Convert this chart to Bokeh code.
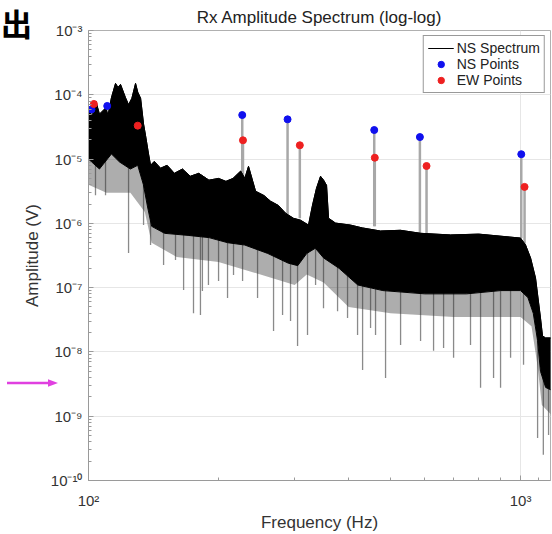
from bokeh.plotting import figure
from bokeh.layouts import column
from bokeh.models import Legend, LegendItem, Div, FixedTicker, CustomJSTickFormatter
from bokeh.embed import file_html
from bokeh.resources import INLINE

# ---- spectrum: upper envelope of the dense trace
spec_upper_f = [100, 102, 104, 106, 109.5, 111, 113, 115.5, 117, 118.6, 121.8, 123.8, 126, 128.5, 130,
                132, 134.1, 135.5, 137.7, 139.2, 142, 146.8, 152, 158, 165, 172, 180, 190, 200, 208,
                216, 225, 230, 234.6, 240, 243.6, 255, 263.8, 275, 285.8, 298, 309.5, 323, 330, 337,
                344.4, 350, 355.6, 359.4, 373, 404, 430, 474, 527, 587, 689, 800, 1000, 1027, 1055,
                1083, 1112, 1124, 1143, 1186]
spec_upper_a = [6.0e-5, 4.5e-5, 7.9e-5, 5.0e-5, 6.2e-5, 4.8e-5, 9.0e-5, 1.5e-4, 1.3e-4, 1.45e-4, 9e-5, 7.0e-5,
                8.8e-5, 1.5e-4, 1.1e-4, 8.8e-5, 3.5e-5, 2.34e-5, 1.2e-5, 8e-6, 9.2e-6, 7.2e-6, 8e-6, 6e-6,
                7e-6, 5.4e-6, 6e-6, 4.7e-6, 5e-6, 4.5e-6, 5e-6, 6.5e-6, 5e-6, 7.7e-6, 4.5e-6, 3.16e-6,
                2.7e-6, 2.21e-6, 1.9e-6, 1.44e-6, 1.2e-6, 1.12e-6, 9.4e-7, 1.92e-6, 3.5e-6, 5.4e-6, 4.7e-6,
                3.9e-6, 1.2e-6, 1.01e-6, 9.4e-7, 8.5e-7, 7.6e-7, 7.8e-7, 7.0e-7, 6.6e-7, 6.8e-7, 5.9e-7,
                4.6e-7, 2.88e-7, 1.41e-7, 3.38e-8, 1.77e-8, 1.65e-8, 1.65e-8]

# lower edge of the dense (solid) part of the trace
spec_lower_f = [100, 106, 113, 118, 125, 130, 134, 137, 140, 150, 170, 190, 210, 230, 260, 290, 305, 320,
                335, 350, 380, 420, 480, 600, 750, 900, 1000, 1040, 1070, 1095, 1112, 1143, 1186]
spec_lower_a = [1.0e-5, 7e-6, 1.2e-5, 9e-6, 7e-6, 8e-6, 4e-6, 1.8e-6, 9e-7, 7e-7, 6.5e-7, 6e-7, 5e-7,
                4.6e-7, 3.4e-7, 2.4e-7, 2.2e-7, 3.4e-7, 4.1e-7, 2.9e-7, 2.0e-7, 1.1e-7, 9e-8, 8e-8, 8e-8,
                9e-8, 9e-8, 7e-8, 4e-8, 1.5e-8, 5e-9, 2.8e-9, 2.5e-9]

# lower edge of the lighter fringe of short downward spikes
spec_fringe_f = [100, 110, 125, 135, 140, 160, 200, 250, 300, 320, 350, 400, 500, 700, 1000, 1060, 1095,
                 1120, 1186]
spec_fringe_a = [4e-6, 3e-6, 3e-6, 1.5e-6, 5e-7, 3e-7, 2.5e-7, 1.6e-7, 1.1e-7, 1.6e-7, 1.2e-7, 5e-8, 4e-8,
                 3.5e-8, 3.5e-8, 2.5e-8, 6e-9, 1.5e-9, 1.0e-9]

# deep downward spikes of the trace
dip_f = [103.8, 109.5, 123.8, 134.1, 139.2, 149.2, 159.0, 166.0, 175.0, 181.6, 183.5, 189.5, 200.0, 209.8,
         216.6, 227.3, 246.2, 268.1, 281.3, 293.5, 304.7, 321.3, 335.4, 349.9, 377.1, 397.7, 419.5, 430.9,
         449.6, 461.7, 487.0, 527.6, 586.9, 629.0, 663.5, 699.8, 765.9, 808.0, 866.0, 898.9, 948.2, 1016,
         1095, 1129, 1161]
dip_top = [2e-5, 2e-5, 3e-5, 1e-5, 3e-6, 2e-6, 2e-6, 2e-6, 2e-6, 2e-6, 2e-6, 2e-6, 2e-6, 1.5e-6, 1.5e-6,
           1.5e-6, 1e-6, 8e-7, 8e-7, 6e-7, 6e-7, 6e-7, 1e-6, 8e-7, 5e-7, 5e-7, 4e-7, 4e-7, 4e-7, 4e-7,
           4e-7, 4e-7, 4e-7, 4e-7, 4e-7, 4e-7, 4e-7, 4e-7, 4e-7, 4e-7, 4e-7, 3e-7, 5e-8, 1e-8, 1e-8]
dip_bottom = [2.74e-6, 2.74e-6, 3.45e-7, 9.4e-7, 4.6e-7, 2.25e-7, 2.68e-7, 9.2e-8, 4.0e-8, 3.76e-8, 8.9e-8,
              1.10e-7, 1.27e-7, 6.9e-8, 1.57e-7, 1.27e-7, 6.9e-8, 2.12e-8, 3.76e-8, 3.03e-8, 1.24e-8,
              1.84e-8, 1.10e-7, 4.8e-8, 4.3e-8, 3.38e-8, 1.84e-8, 5.25e-9, 2.36e-8, 1.84e-8, 3.94e-9,
              1.28e-8, 1.48e-8, 1.04e-8, 1.15e-8, 8.1e-9, 1.28e-8, 2.76e-9, 3.94e-9, 2.76e-9, 8.1e-9,
              6.3e-9, 4.6e-10, 2.52e-10, 5.1e-10]

# ---- marked points
ns_f = [101.6, 110.5, 226.9, 288.9, 458.5, 584.8, 1003.8]
ns_a = [5.93e-5, 6.7e-5, 4.84e-5, 4.15e-5, 2.83e-5, 2.20e-5, 1.19e-5]
ns_base = [5e-5, 5e-5, 5e-6, 1.4e-6, 9e-7, 7e-7, 5.9e-7]
ew_f = [102.9, 130.0, 227.8, 308.4, 459.9, 605.9, 1021.6]
ew_a = [7.2e-5, 3.31e-5, 1.96e-5, 1.64e-5, 1.05e-5, 7.8e-6, 3.69e-6]
ew_base = [5e-5, 5e-5, 5e-6, 1.2e-6, 9e-7, 7e-7, 4.6e-7]

x_ticks = [100, 1000]
y_ticks = [1e-10, 1e-9, 1e-8, 1e-7, 1e-6, 1e-5, 1e-4, 1e-3]

FONT = "Liberation Sans"

p = figure(width=552, height=534, x_axis_type="log", y_axis_type="log",
           x_range=(100, 1173), y_range=(1e-10, 1e-3),
           output_backend="svg", toolbar_location=None,
           min_border_left=88, min_border_right=2, min_border_top=30, min_border_bottom=51,
           title="Rx Amplitude Spectrum (log-log)")
p.title.align = "center"
p.title.text_font = FONT
p.title.text_font_size = "17px"
p.title.text_font_style = "normal"
p.title.text_color = "#222222"
p.title.standoff = 8

p.outline_line_color = "#b0b0b0"
p.background_fill_color = "white"
p.border_fill_color = "white"

# stems of the marked lines
p.segment(x0=ns_f, y0=ns_a, x1=ns_f, y1=ns_base, line_color="#a8a8a8", line_width=2.5)
p.segment(x0=ew_f, y0=ew_a, x1=ew_f, y1=ew_base, line_color="#a8a8a8", line_width=2.5)

# deep spikes
p.segment(x0=dip_f, y0=dip_top, x1=dip_f, y1=dip_bottom, line_color="#8a8a8a", line_width=1.3)

# fringe
p.patch(spec_lower_f + spec_fringe_f[::-1], spec_lower_a + spec_fringe_a[::-1],
        fill_color="#333333", fill_alpha=0.4, line_color=None)
# dense trace
p.patch(spec_upper_f + spec_lower_f[::-1], spec_upper_a + spec_lower_a[::-1],
        fill_color="black", line_color="black", line_width=1)
spec_line = p.line(spec_upper_f, spec_upper_a, line_color="black", line_width=1)

ns_r = p.scatter(ns_f, ns_a, size=7, marker="circle", fill_color="#1010ee", line_color="#1010ee")
ew_r = p.scatter(ew_f, ew_a, size=7, marker="circle", fill_color="#ee2020", line_color="#ee2020")

# axes
sup = CustomJSTickFormatter(code="""
const m = {"0":"\u2070","1":"\u00b9","2":"\u00b2","3":"\u00b3","4":"\u2074","5":"\u2075",
           "6":"\u2076","7":"\u2077","8":"\u2078","9":"\u2079","-":"\u207b"};
const e = Math.round(Math.log10(tick));
return "10" + String(e).split("").map(c => m[c]).join("");
""")
xt = FixedTicker(ticks=x_ticks, minor_ticks=[m * 100 for m in range(2, 10)] + [1100])
yt = FixedTicker(ticks=y_ticks, minor_ticks=[m * 10.0 ** e for e in range(-10, -3) for m in range(2, 10)])
p.xaxis.ticker = xt
p.yaxis.ticker = yt
p.xgrid.ticker = xt
p.ygrid.ticker = yt
p.xaxis.formatter = sup
p.yaxis.formatter = sup
for ax in (p.xaxis[0], p.yaxis[0]):
    ax.axis_line_color = "#9a9a9a"
    ax.major_tick_line_color = "#9a9a9a"
    ax.minor_tick_line_color = "#9a9a9a"
    ax.major_tick_in = 5
    ax.major_tick_out = 0
    ax.minor_tick_in = 3
    ax.minor_tick_out = 0
    ax.major_label_text_font = FONT
    ax.major_label_text_font_size = "15px"
    ax.major_label_text_color = "#333333"
    ax.axis_label_text_font = FONT
    ax.axis_label_text_font_size = "17px"
    ax.axis_label_text_font_style = "normal"
    ax.axis_label_text_color = "#333333"
p.xaxis.axis_label = "Frequency (Hz)"
p.yaxis.axis_label = "Amplitude (V)"
p.xaxis.major_label_standoff = 11
p.xaxis.axis_label_standoff = 1
p.yaxis.major_label_standoff = 6
p.yaxis.axis_label_standoff = 6
p.grid.grid_line_color = "#e6e6e6"
p.grid.grid_line_width = 1

legend = Legend(items=[LegendItem(label="NS Spectrum", renderers=[spec_line]),
                       LegendItem(label="NS Points", renderers=[ns_r]),
                       LegendItem(label="EW Points", renderers=[ew_r])],
                location="top_right", margin=5, padding=4, spacing=0,
                glyph_width=26, glyph_height=16, label_height=16, label_standoff=3,
                label_text_font=FONT, label_text_font_size="14px", label_text_color="#222222",
                border_line_color="#333333", border_line_width=1, background_fill_alpha=1)
p.add_layout(legend)

# panel letter and magenta pointer, placed over the left margin of the figure
chu = Div(text='<div style="font-family:\'Noto Sans CJK SC\',sans-serif;font-weight:bold;'
               'font-size:31px;line-height:46px;height:46px;color:black;margin:0;padding:0">出</div>',
          width=40, height=48, margin=0,
          styles={"position": "absolute", "left": "1px", "top": "0px", "z-index": "10"})
pointer = Div(text='<svg width="62" height="14" xmlns="http://www.w3.org/2000/svg">'
                   '<line x1="7" y1="7" x2="50" y2="7" stroke="#e040e0" stroke-width="2.6"/>'
                   '<polygon points="48,3.3 58,7 48,10.7" fill="#e040e0"/></svg>',
              width=62, height=14, margin=0,
              styles={"position": "absolute", "left": "0px", "top": "376px", "z-index": "10"})

layout = column(p, chu, pointer, width=552, height=534, spacing=0,
                styles={"position": "relative"})

open("out.html", "w", encoding="utf-8").write(file_html(layout, INLINE))
